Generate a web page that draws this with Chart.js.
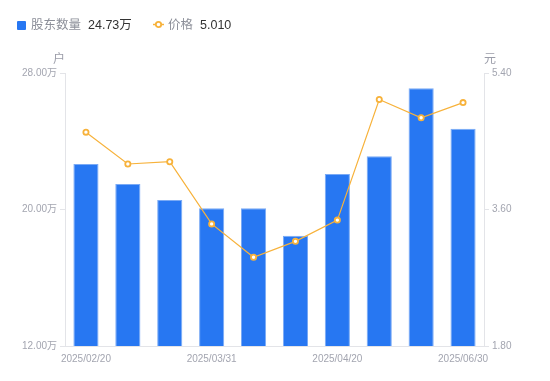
<!DOCTYPE html>
<html>
<head>
<meta charset="utf-8">
<script src="https://cdn.jsdelivr.net/npm/chart.js@4/dist/chart.umd.min.js"></script>
<style>
  html, body { margin:0; padding:0; background:#fff; }
  #wrap { position:relative; width:550px; height:381px; font-family:"Liberation Sans","Noto Sans CJK SC",sans-serif; }
  canvas { position:absolute; left:0; top:0; }
  .lg { position:absolute; top:17px; font-size:12.5px; line-height:17px; white-space:nowrap; }
  .lg .n { color:#8c8f99; }
  .lg .v { color:#333; margin-left:7px; }
  .unit { position:absolute; top:49px; font-size:12px; color:#9a9ca8; font-family:"Noto Sans CJK SC",sans-serif; }
</style>
</head>
<body>
<div id="wrap">
  <canvas id="c" width="550" height="381"></canvas>
  <div class="lg" style="left:17px;">
    <span style="display:inline-block;width:9px;height:9px;background:#2777f2;border-radius:1px;vertical-align:-1px;margin-right:5px;"></span><span class="n">股东数量</span><span class="v" id="v1"></span>
  </div>
  <div class="lg" style="left:153px;">
    <svg width="11" height="9" style="vertical-align:0px;margin-right:4px;"><line x1="0" y1="4.5" x2="11" y2="4.5" stroke="#f7b23b" stroke-width="1.5"/><circle cx="5.5" cy="4.5" r="2.7" fill="#fff" stroke="#f7b23b" stroke-width="1.8"/></svg><span class="n">价格</span><span class="v" id="v2"></span>
  </div>
  <div class="unit" style="left:53px;">户</div>
  <div class="unit" style="left:484px;">元</div>
</div>
<script>
const categories = ["2025/02/20","2025/02/28","2025/03/10","2025/03/31","2025/04/08","2025/04/15","2025/04/20","2025/05/20","2025/06/10","2025/06/30"];
const holders = [22.67, 21.50, 20.56, 20.08, 20.08, 18.46, 22.08, 23.12, 27.10, 24.73];
const prices = [4.62, 4.20, 4.23, 3.41, 2.97, 3.18, 3.46, 5.05, 4.81, 5.01];
const leftTicks = [12, 20, 28];
const rightTicks = [1.8, 3.6, 5.4];
const shownLabels = [0, 3, 6, 9];

document.getElementById('v1').textContent = holders[holders.length-1].toFixed(2) + '万';
document.getElementById('v2').textContent = prices[prices.length-1].toFixed(3);

const tickColor = '#a3a5b0';
const lineGrey = '#e3e4e8';
const fontDef = { family: '"Liberation Sans","Noto Sans CJK SC",sans-serif', size: 10 };

new Chart(document.getElementById('c'), {
  data: {
    labels: categories,
    datasets: [
      { type:'line', label:'价格', data:prices, yAxisID:'y1', borderColor:'#f7b23b', borderWidth:1.2,
        pointRadius:2.6, pointBorderWidth:1.8, pointBackgroundColor:'#fff', pointBorderColor:'#f7b23b', tension:0, order:0 },
      { type:'bar', label:'股东数量', data:holders, yAxisID:'y', backgroundColor:'#2777f2', borderColor:'#7aaaf5',
        borderWidth:{top:1,left:1,right:1,bottom:0}, barPercentage:0.6, categoryPercentage:1, order:1 }
    ]
  },
  options: {
    responsive:false, animation:false,
    layout:{ padding:{ top:73, left:0, right:0, bottom:0 } },
    plugins:{ legend:{display:false}, tooltip:{enabled:false} },
    scales:{
      x:{ grid:{ display:true, drawOnChartArea:false, drawTicks:false, color:lineGrey },
          border:{ color:lineGrey },
          afterFit(s){ s.height = 35; },
          ticks:{ color:tickColor, font:fontDef, padding:7, maxRotation:0, autoSkip:false,
                  callback(v,i){ return shownLabels.includes(i) ? categories[i] : ''; } } },
      y:{ position:'left', min:12, max:28,
          afterFit(s){ s.width = 65; },
          afterBuildTicks(s){ s.ticks = leftTicks.map(v=>({value:v})); },
          grid:{ drawOnChartArea:false, tickLength:5, color:lineGrey },
          border:{ color:lineGrey },
          ticks:{ color:tickColor, font:fontDef, padding:3, callback(v){ return v.toFixed(2)+'万'; } } },
      y1:{ position:'right', min:1.8, max:5.4,
          afterFit(s){ s.width = 66; },
          afterBuildTicks(s){ s.ticks = rightTicks.map(v=>({value:v})); },
          grid:{ drawOnChartArea:false, tickLength:5, color:lineGrey },
          border:{ color:lineGrey },
          ticks:{ color:tickColor, font:fontDef, padding:3, callback(v){ return v.toFixed(2); } } }
    }
  }
});
</script>
</body>
</html>
